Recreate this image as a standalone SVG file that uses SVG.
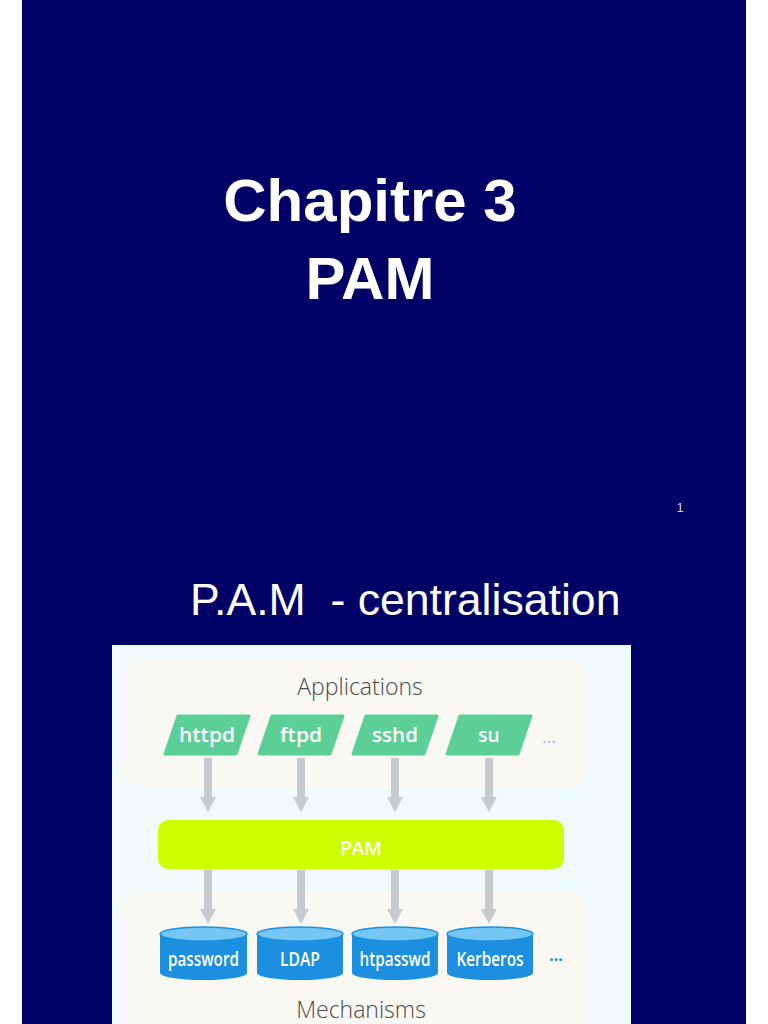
<svg xmlns="http://www.w3.org/2000/svg" width="768" height="1024" viewBox="0 0 768 1024">
<defs>
<style>
.title{font-family:"Liberation Sans",Arial,sans-serif;font-weight:bold;font-size:60px;fill:#ffffff;text-anchor:middle}
.sub{font-family:"Liberation Sans",Arial,sans-serif;font-size:44.6px;fill:#ffffff}
.group{fill:#faf8f3}
.grouplabel{font-family:"Open Sans","DejaVu Sans",sans-serif;font-weight:300;font-size:23px;fill:#4a4a4a;text-anchor:middle}
.app{fill:#5ccf98;stroke:#5ccf98;stroke-width:3;stroke-linejoin:round}
.lbl{font-family:"Open Sans","DejaVu Sans",sans-serif;font-weight:600;font-size:19px;fill:#ffffff;text-anchor:middle}
.body{fill:#1c8fe0}
.top{fill:#74c7f3;stroke:#1c8fe0;stroke-width:1.5}
.arrow{fill:#c5cbcf}
</style>
<g id="arr"><rect x="-4" y="0" width="8" height="40" class="arrow"/><polygon points="-8,39 8,39 0,54" class="arrow"/></g>
</defs>
<rect x="0" y="0" width="768" height="1024" fill="#ffffff"/>
<rect x="22" y="0" width="724" height="1024" fill="#000066"/>
<g id="title">
<text class="title" x="370" y="221">Chapitre 3</text>
<text class="title" x="370" y="299" font-size="62">PAM</text>
</g>
<text x="680" y="512" font-family="Liberation Sans,Arial,sans-serif" font-size="12" fill="#dcdcf0" text-anchor="middle">1</text>
<text class="sub" x="190" y="615" xml:space="preserve">P.A.M  - centralisation</text>
<rect x="112" y="645" width="519" height="379" fill="#effbfb"/>
<g id="applications">
<rect x="123" y="660" width="466" height="127" rx="22" class="group"/>
<text class="grouplabel" x="360" y="695">Applications</text>
</g>
<g id="mechanisms">
<rect x="123" y="892" width="466" height="150" rx="22" class="group"/>
<text class="grouplabel" x="361" y="1018">Mechanisms</text>
</g>
<g id="connectors">
<use href="#arr" x="208" y="758"/>
<use href="#arr" x="301" y="758"/>
<use href="#arr" x="395" y="758"/>
<use href="#arr" x="489" y="758"/>
<use href="#arr" x="208" y="870"/>
<use href="#arr" x="301" y="870"/>
<use href="#arr" x="395" y="870"/>
<use href="#arr" x="489" y="870"/>
</g>
<g id="httpd"><polygon class="app" points="178,716 249,716 236,754 165,754"/><text class="lbl" x="207" y="742" textLength="56" lengthAdjust="spacingAndGlyphs">httpd</text></g>
<g id="ftpd"><polygon class="app" points="272,716 343,716 330,754 259,754"/><text class="lbl" x="301" y="742" textLength="42" lengthAdjust="spacingAndGlyphs">ftpd</text></g>
<g id="sshd"><polygon class="app" points="366,716 437,716 424,754 353,754"/><text class="lbl" x="395" y="742" textLength="46" lengthAdjust="spacingAndGlyphs">sshd</text></g>
<g id="su"><polygon class="app" points="460,716 531,716 518,754 447,754"/><text class="lbl" x="489" y="742">su</text></g>
<text x="549" y="743" font-family="Open Sans,sans-serif" font-size="18" fill="#7cc8c8" text-anchor="middle">...</text>
<g id="pam">
<rect x="158" y="820" width="406" height="49" rx="10" fill="#ccff00"/>
<text class="lbl" x="361" y="855" font-size="18">PAM</text>
</g>
<g id="password"><path class="body" d="M160,934 L160,973 A43.5,7 0 0 0 247,973 L247,934 Z"/><ellipse class="top" cx="203.5" cy="934" rx="43.5" ry="7"/><text class="lbl" x="203.5" y="966" textLength="71" lengthAdjust="spacingAndGlyphs">password</text></g>
<g id="ldap"><path class="body" d="M257,934 L257,973 A43,7 0 0 0 343,973 L343,934 Z"/><ellipse class="top" cx="300" cy="934" rx="43" ry="7"/><text class="lbl" x="300" y="966" textLength="40" lengthAdjust="spacingAndGlyphs">LDAP</text></g>
<g id="htpasswd"><path class="body" d="M352,934 L352,973 A43,7 0 0 0 438,973 L438,934 Z"/><ellipse class="top" cx="395" cy="934" rx="43" ry="7"/><text class="lbl" x="395" y="966" textLength="71" lengthAdjust="spacingAndGlyphs">htpasswd</text></g>
<g id="kerberos"><path class="body" d="M447,934 L447,973 A43,7 0 0 0 533,973 L533,934 Z"/><ellipse class="top" cx="490" cy="934" rx="43" ry="7"/><text class="lbl" x="490" y="966" textLength="67" lengthAdjust="spacingAndGlyphs">Kerberos</text></g>
<text x="556" y="961" font-family="Open Sans,sans-serif" font-weight="bold" font-size="16" fill="#1c8fe0" text-anchor="middle">...</text>
</svg>
